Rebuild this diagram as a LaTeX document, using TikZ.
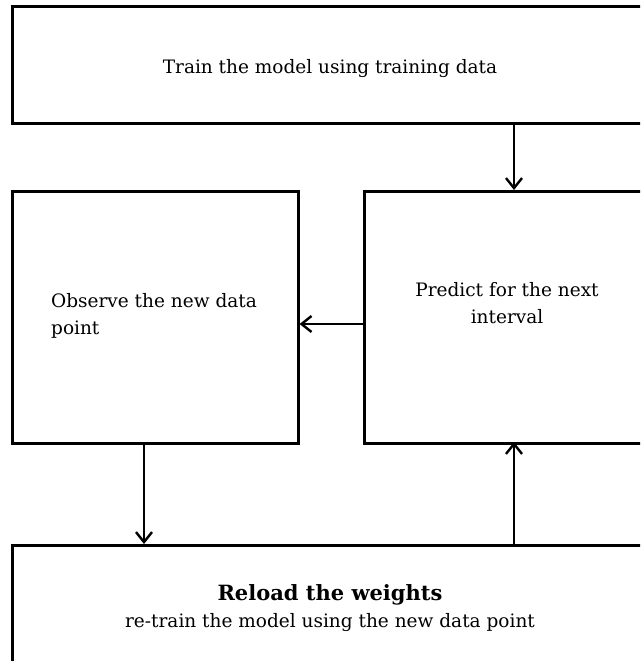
\documentclass[tikz,border=0pt]{standalone}
\usepackage{fontspec}
\setmainfont{DejaVu Serif}
\usetikzlibrary{arrows.meta}
\begin{document}
\begin{tikzpicture}[x=1pt,y=-1pt,
  box/.style={draw=black,line width=2.6pt,fill=white,inner sep=0pt,anchor=north west},
  lbl/.style={inner sep=0pt,font=\fontsize{18.5}{27}\selectfont},
  conn/.style={line width=2.2pt,-{Straight Barb[length=10pt,width=16pt,line width=2.4pt]}}]
\useasboundingbox (0,0) rectangle (640,661);
\clip (0,0) rectangle (640,661);
\fill[white] (0,0) rectangle (640,661);
\node[box,minimum width=638pt,minimum height=117pt] (train) at (11,5) {};
\node[box,minimum width=286pt,minimum height=252pt] (observe) at (11,190) {};
\node[box,minimum width=288pt,minimum height=252pt] (predict) at (363,190) {};
\node[box,minimum width=638pt,minimum height=140pt] (reload) at (11,544) {};
\node[lbl] (ttrain) at (330,69) {Train the model using training data};
\node[lbl,align=left] (tobs) at (154,316) {Observe the new data\\point};
\node[lbl,align=center] (tpred) at (507,303) {Predict for the next\\interval};
\node[lbl,align=center] (trel) at (330,608) {{\bfseries\fontsize{21}{22}\selectfont Reload the weights}\\re-train the model using the new data point};
\coordinate (a1) at (514,122);
\draw[conn] (a1) -- (a1 |- predict.north);
\draw[conn] (predict.west |- 0,324) -- (observe.east |- 0,324);
\draw[conn] (144,442) -- (144,544);
\draw[conn] (514,544) -- (514,442);
\end{tikzpicture}
\end{document}
